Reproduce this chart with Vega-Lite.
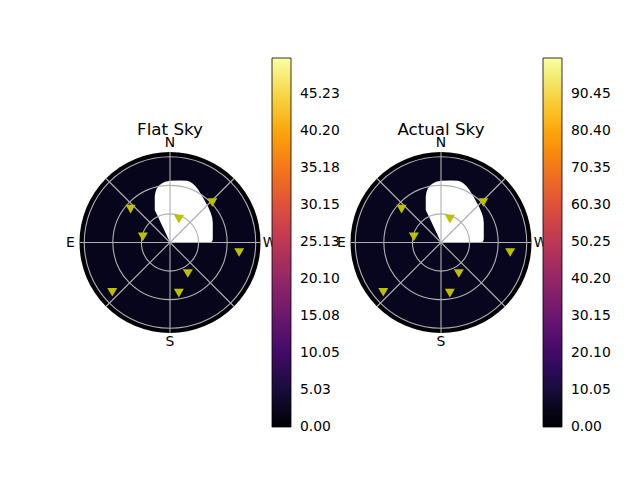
{
  "$schema": "https://vega.github.io/schema/vega-lite/v6.json",
  "padding": {"left": 66, "top": 58, "right": 5, "bottom": 5},
  "spacing": -3,
  "config": {
    "view": {"stroke": null},
    "font": "DejaVu Sans"
  },
  "datasets": {
    "blob": [
      {"x": -16.0, "lo": 34.1, "hi": 48.3},
      {"x": -15.3, "lo": 32.6, "hi": 52.8},
      {"x": -14.0, "lo": 29.9, "hi": 56.3},
      {"x": -11.5, "lo": 24.7, "hi": 59.8},
      {"x": -8.7, "lo": 18.7, "hi": 62.0},
      {"x": -5.2, "lo": 11.2, "hi": 63.8},
      {"x": 0.0, "lo": 0.0, "hi": 64.8},
      {"x": 10.5, "lo": 0.0, "hi": 65.1},
      {"x": 17.5, "lo": 0.0, "hi": 64.9},
      {"x": 21.0, "lo": 0.0, "hi": 63.8},
      {"x": 24.0, "lo": 0.0, "hi": 61.8},
      {"x": 26.8, "lo": 0.0, "hi": 59.0},
      {"x": 29.7, "lo": 0.0, "hi": 55.5},
      {"x": 34.6, "lo": 0.0, "hi": 47.2},
      {"x": 40.2, "lo": 0.0, "hi": 37.0},
      {"x": 43.0, "lo": 0.2, "hi": 30.5},
      {"x": 44.3, "lo": 1.2, "hi": 26.0},
      {"x": 44.9, "lo": 3.5, "hi": 21.0}
    ],
    "rings": [
      {"t0": 0, "t1": 360, "r": 30},
      {"t0": 0, "t1": 360, "r": 60},
      {"t0": 0, "t1": 360, "r": 90}
    ],
    "spokes": [
      {"a": 0, "r": 95}, {"a": 45, "r": 95}, {"a": 90, "r": 95}, {"a": 135, "r": 95},
      {"a": 180, "r": 95}, {"a": 225, "r": 95}, {"a": 270, "r": 95}, {"a": 315, "r": 95}
    ],
    "compass": [
      {"a": 0, "r": 104.5, "lab": "N"},
      {"a": 90, "r": 104.5, "lab": "W"},
      {"a": 180, "r": 104.5, "lab": "S"},
      {"a": 270, "r": 104.5, "lab": "E"}
    ],
    "stars": [
      {"x": -41.4, "y": 35.0},
      {"x": 9.4, "y": 24.5},
      {"x": 44.4, "y": 42.0},
      {"x": -28.5, "y": 5.9},
      {"x": 72.6, "y": -10.5},
      {"x": 18.7, "y": -32.5},
      {"x": -60.6, "y": -52.2},
      {"x": 9.3, "y": -53.2}
    ]
  },
  "hconcat": [
    {
      "width": 190,
      "height": 369,
      "title": {"text": "Flat Sky", "fontSize": 16.7, "font": "DejaVu Sans", "fontWeight": "normal", "color": "black", "offset": 0, "baseline": "alphabetic", "dy": 94},
      "layer": [
        {
          "data": {"values": [{"t0": 0, "t1": 360, "r": 95, "v": 0}, {"t0": 0, "t1": 360, "r": 90, "v": 2.4}]},
          "mark": {"type": "arc"},
          "encoding": {
            "theta": {"field": "t0", "type": "quantitative", "stack": null, "scale": {"domain": [0, 360], "range": [0, 6.283185307179586]}},
            "theta2": {"field": "t1"},
            "radius": {"field": "r", "type": "quantitative", "scale": {"type": "linear", "domain": [0, 95], "range": [0, 90.5], "nice": false}},
            "color": {"field": "v", "type": "quantitative", "scale": {"scheme": "inferno", "domain": [0, 50.1]},
              "legend": {"title": null, "format": ".2f", "values": [0.001, 5.03, 10.05, 15.08, 20.1, 25.13, 30.15, 35.18, 40.2, 45.23],
                "gradientLength": 369, "gradientThickness": 19, "labelFontSize": 13.9, "labelFont": "DejaVu Sans", "labelColor": "black",
                "labelOffset": 9, "labelBaseline": "middle", "offset": 7, "padding": 0, "labelOverlap": false,
                "gradientStrokeColor": "black", "gradientStrokeWidth": 0.8}}
          }
        },
        {
          "data": {"name": "blob"},
          "mark": {"type": "area", "color": "white", "interpolate": "linear"},
          "encoding": {
            "x": {"field": "x", "type": "quantitative", "scale": {"domain": [-99.72, 99.72], "nice": false, "zero": false}, "axis": null},
            "y": {"field": "hi", "type": "quantitative", "stack": null, "scale": {"domain": [-193.67, 193.67], "nice": false, "zero": false}, "axis": null},
            "y2": {"field": "lo"}
          }
        },
        {
          "data": {"name": "rings"},
          "mark": {"type": "arc", "filled": false, "stroke": "#b0b0b0", "strokeWidth": 1.1},
          "encoding": {
            "theta": {"field": "t0", "type": "quantitative", "stack": null},
            "theta2": {"field": "t1"},
            "radius": {"field": "r", "type": "quantitative"}
          }
        },
        {
          "data": {"name": "spokes"},
          "mark": {"type": "arc", "filled": false, "stroke": "#b0b0b0", "strokeWidth": 1.1},
          "encoding": {
            "theta": {"field": "a", "type": "quantitative", "stack": null},
            "theta2": {"field": "a"},
            "radius": {"field": "r", "type": "quantitative"}
          }
        },
        {
          "data": {"name": "compass"},
          "mark": {"type": "text", "fontSize": 13.9, "font": "DejaVu Sans", "color": "black", "align": "center", "baseline": "middle"},
          "encoding": {
            "theta": {"field": "a", "type": "quantitative", "stack": null},
            "radius": {"field": "r", "type": "quantitative"},
            "text": {"field": "lab"}
          }
        },
        {
          "data": {"name": "stars"},
          "mark": {"type": "point", "shape": "triangle-down", "filled": true, "color": "#bfbf00", "size": 100, "opacity": 1},
          "encoding": {
            "x": {"field": "x", "type": "quantitative"},
            "y": {"field": "y", "type": "quantitative"}
          }
        }
      ]
    },
    {
      "width": 190,
      "height": 369,
      "title": {"text": "Actual Sky", "fontSize": 16.7, "font": "DejaVu Sans", "fontWeight": "normal", "color": "black", "offset": 0, "baseline": "alphabetic", "dy": 94},
      "layer": [
        {
          "data": {"values": [{"t0": 0, "t1": 360, "r": 95, "v": 0}, {"t0": 0, "t1": 360, "r": 90, "v": 5.2}]},
          "mark": {"type": "arc"},
          "encoding": {
            "theta": {"field": "t0", "type": "quantitative", "stack": null, "scale": {"domain": [0, 360], "range": [0, 6.283185307179586]}},
            "theta2": {"field": "t1"},
            "radius": {"field": "r", "type": "quantitative", "scale": {"type": "linear", "domain": [0, 95], "range": [0, 90.5], "nice": false}},
            "color": {"field": "v", "type": "quantitative", "scale": {"scheme": "inferno", "domain": [0, 100.2]},
              "legend": {"title": null, "format": ".2f", "values": [0.001, 10.05, 20.1, 30.15, 40.2, 50.25, 60.3, 70.35, 80.4, 90.45],
                "gradientLength": 369, "gradientThickness": 19, "labelFontSize": 13.9, "labelFont": "DejaVu Sans", "labelColor": "black",
                "labelOffset": 9, "labelBaseline": "middle", "offset": 7, "padding": 0, "labelOverlap": false,
                "gradientStrokeColor": "black", "gradientStrokeWidth": 0.8}}
          }
        },
        {
          "data": {"name": "blob"},
          "mark": {"type": "area", "color": "white", "interpolate": "linear"},
          "encoding": {
            "x": {"field": "x", "type": "quantitative", "scale": {"domain": [-99.72, 99.72], "nice": false, "zero": false}, "axis": null},
            "y": {"field": "hi", "type": "quantitative", "stack": null, "scale": {"domain": [-193.67, 193.67], "nice": false, "zero": false}, "axis": null},
            "y2": {"field": "lo"}
          }
        },
        {
          "data": {"name": "rings"},
          "mark": {"type": "arc", "filled": false, "stroke": "#b0b0b0", "strokeWidth": 1.1},
          "encoding": {
            "theta": {"field": "t0", "type": "quantitative", "stack": null},
            "theta2": {"field": "t1"},
            "radius": {"field": "r", "type": "quantitative"}
          }
        },
        {
          "data": {"name": "spokes"},
          "mark": {"type": "arc", "filled": false, "stroke": "#b0b0b0", "strokeWidth": 1.1},
          "encoding": {
            "theta": {"field": "a", "type": "quantitative", "stack": null},
            "theta2": {"field": "a"},
            "radius": {"field": "r", "type": "quantitative"}
          }
        },
        {
          "data": {"name": "compass"},
          "mark": {"type": "text", "fontSize": 13.9, "font": "DejaVu Sans", "color": "black", "align": "center", "baseline": "middle"},
          "encoding": {
            "theta": {"field": "a", "type": "quantitative", "stack": null},
            "radius": {"field": "r", "type": "quantitative"},
            "text": {"field": "lab"}
          }
        },
        {
          "data": {"name": "stars"},
          "mark": {"type": "point", "shape": "triangle-down", "filled": true, "color": "#bfbf00", "size": 100, "opacity": 1},
          "encoding": {
            "x": {"field": "x", "type": "quantitative"},
            "y": {"field": "y", "type": "quantitative"}
          }
        }
      ]
    }
  ],
  "resolve": {
    "scale": {"color": "independent", "x": "independent", "y": "independent", "theta": "independent", "radius": "independent"},
    "legend": {"color": "independent"}
  }
}
